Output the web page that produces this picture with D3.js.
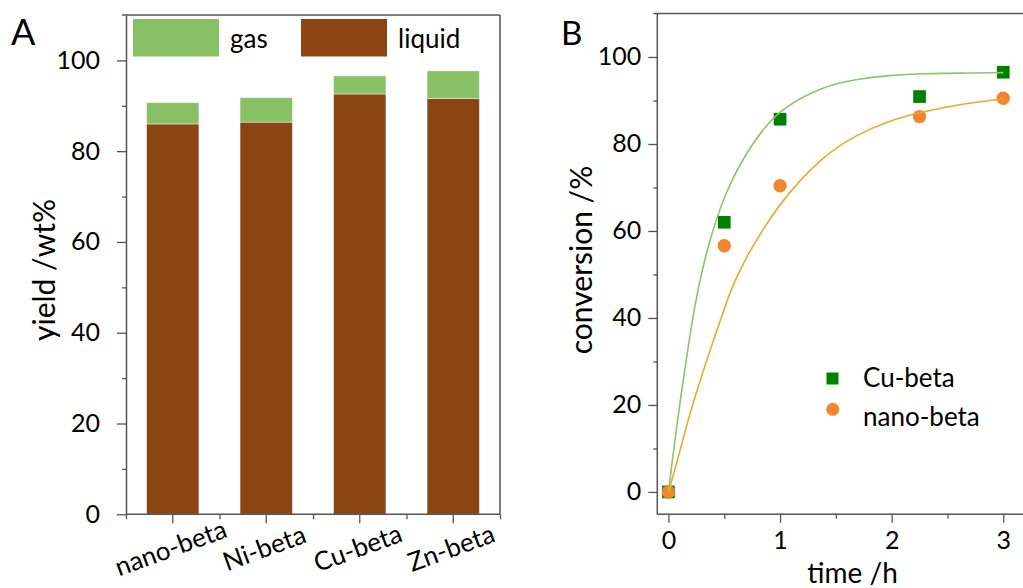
<!DOCTYPE html>
<html><head><meta charset="utf-8">
<script src="https://cdn.jsdelivr.net/npm/d3@7"></script>
<style>
html,body{margin:0;padding:0;background:#fff;}
svg{display:block;font-family:Lato,"Open Sans",sans-serif;}
</style></head>
<body>
<svg id="chart" width="1023" height="588"></svg>
<script>
// ---- Panel A data ----
const categories = ["nano-beta", "Ni-beta", "Cu-beta", "Zn-beta"];
const liquidYield = [86.0, 86.4, 92.6, 91.6];
const gasYield = [4.7, 5.4, 4.0, 6.1];
const yTicksA = [0, 20, 40, 60, 80, 100];
const yMinorA = [10, 30, 50, 70, 90];

// ---- Panel B data ----
const timeCu = [0, 0.5, 1, 2.25, 3];
const convCu = [0, 62.0, 85.7, 90.9, 96.5];
const timeNano = [0, 0.5, 1, 2.25, 3];
const convNano = [0, 56.6, 70.4, 86.3, 90.5];
// fitted curves
const fitTimeCu = [0, 0.039, 0.078, 0.119, 0.164, 0.209, 0.263, 0.323, 0.406, 0.511, 0.657, 0.86, 1.04, 1.38, 1.68, 1.98, 2.28, 2.58, 3.0];
const fitConvCu = [0, 8.1, 15.8, 23.4, 31.1, 38.8, 46.4, 53.3, 61.0, 68.7, 76.3, 84.0, 88.6, 93.2, 94.9, 95.8, 96.2, 96.3, 96.4];
const fitTimeNano = [0, 0.09, 0.167, 0.257, 0.352, 0.457, 0.556, 0.681, 0.86, 1.07, 1.38, 1.68, 1.98, 2.28, 2.58, 3.0];
const fitConvNano = [0, 8.1, 15.8, 23.4, 31.1, 38.8, 46.4, 53.3, 61.0, 68.7, 77.1, 82.1, 85.4, 87.4, 89.0, 90.4];
const xTicksB = [0, 1, 2, 3];
const xMinorB = [0.5, 1.5, 2.5];
const yTicksB = [0, 20, 40, 60, 80, 100];
const yMinorB = [10, 30, 50, 70, 90];

const colGas = "#88c065", colLiquid = "#8b4513";
const colCu = "#008000", colNano = "#f2852d";
const colCuLine = "#8cc56c", colNanoLine = "#e9aa2c";
const axisCol = "#555";

const svg = d3.select("#chart");

function styleAxis(g) {
  g.selectAll(".domain").attr("stroke", axisCol).attr("stroke-width", 1.5);
  g.selectAll(".tick line").attr("stroke", axisCol).attr("stroke-width", 1.3);
  g.selectAll(".tick text").attr("fill", "#000").style("font-family", "Lato");
}

// ================= Panel A =================
const A = {l: 126, r: 500, t: 15, b: 514.3};
const xA = d3.scaleBand().domain(categories).range([A.l, A.r]).paddingInner(0.44).paddingOuter(0.22);
const xAidx = d3.scaleLinear().domain([0, categories.length]).range([A.l, A.r]);
const yA = d3.scaleLinear().domain([0, 110]).range([A.b, A.t]);

const gA = svg.append("g");
// bars
categories.forEach((c, i) => {
  gA.append("rect").attr("x", xA(c)).attr("width", xA.bandwidth())
    .attr("y", yA(liquidYield[i])).attr("height", yA(0) - yA(liquidYield[i]))
    .attr("fill", colLiquid).attr("stroke", "#fff").attr("stroke-opacity", 0.45).attr("stroke-width", 1);
  gA.append("rect").attr("x", xA(c)).attr("width", xA.bandwidth())
    .attr("y", yA(liquidYield[i] + gasYield[i])).attr("height", yA(liquidYield[i]) - yA(liquidYield[i] + gasYield[i]))
    .attr("fill", colGas).attr("stroke", "#fff").attr("stroke-opacity", 0.45).attr("stroke-width", 1);
});
// frame top/right
gA.append("line").attr("x1", A.l - 4).attr("x2", A.r).attr("y1", A.t).attr("y2", A.t).attr("stroke", axisCol).attr("stroke-width", 1.5);
gA.append("line").attr("x1", A.r).attr("x2", A.r).attr("y1", A.t).attr("y2", A.b).attr("stroke", axisCol).attr("stroke-width", 1.5);
// y axis
const yAxA = gA.append("g").attr("transform", `translate(${A.l},0)`)
  .call(d3.axisLeft(yA).tickValues(yTicksA).tickSize(9).tickPadding(17).tickSizeOuter(0));
styleAxis(yAxA);
yAxA.selectAll(".tick text").style("font-size", "25px");
const yMinA = gA.append("g").attr("transform", `translate(${A.l},0)`)
  .call(d3.axisLeft(yA).tickValues(yMinorA).tickSize(4).tickFormat("").tickSizeOuter(0));
styleAxis(yMinA); yMinA.select(".domain").remove();
// x axis
const xAxA = gA.append("g").attr("transform", `translate(0,${A.b})`)
  .call(d3.axisBottom(xA).tickSize(9).tickSizeOuter(0));
styleAxis(xAxA);
xAxA.selectAll(".tick text").remove();
xAxA.select(".domain").attr("d", `M${A.l},0H${A.r}`);
const xMinA = gA.append("g").attr("transform", `translate(0,${A.b})`)
  .call(d3.axisBottom(xAidx).tickValues(d3.range(categories.length + 1)).tickSize(5).tickFormat("").tickSizeOuter(0));
styleAxis(xMinA); xMinA.select(".domain").remove();
// rotated category labels
categories.forEach(c => {
  const cx = xA(c) + xA.bandwidth() / 2 - 2, cy = 548;
  gA.append("text").attr("transform", `translate(${cx},${cy}) rotate(-20)`)
    .attr("text-anchor", "middle").attr("dy", "0.35em")
    .style("font-size", "26px").text(c);
});
// y title
gA.append("text").attr("transform", `translate(55,270) rotate(-90)`)
  .attr("text-anchor", "middle").style("font-size", "30px").text("yield /wt%");
// panel label
gA.append("text").attr("x", 11).attr("y", 45).style("font-size", "36px").text("A");
// legend
gA.append("rect").attr("x", 133).attr("y", 19).attr("width", 86).attr("height", 37.5).attr("fill", colGas);
gA.append("text").attr("x", 230).attr("y", 48).style("font-size", "26px").text("gas");
gA.append("rect").attr("x", 301).attr("y", 19).attr("width", 86).attr("height", 37.5).attr("fill", colLiquid);
gA.append("text").attr("x", 398).attr("y", 48).style("font-size", "26px").text("liquid");

// ================= Panel B =================
const B = {l: 657.3, t: 13.5, b: 513.7};
const xB = d3.scaleLinear().domain([-0.1, 3.2]).range([B.l, B.l + 3.3 * 111.6]);
const yB = d3.scaleLinear().domain([-5, 110]).range([B.b, B.t]);
const gB = svg.append("g");

gB.append("line").attr("x1", B.l - 4).attr("x2", xB(3.2)).attr("y1", B.t).attr("y2", B.t).attr("stroke", axisCol).attr("stroke-width", 1.5);
gB.append("line").attr("x1", xB(3.2)).attr("x2", xB(3.2)).attr("y1", B.t).attr("y2", B.b).attr("stroke", axisCol).attr("stroke-width", 1.5);

const yAxB = gB.append("g").attr("transform", `translate(${B.l},0)`)
  .call(d3.axisLeft(yB).tickValues(yTicksB).tickSize(9).tickPadding(7).tickSizeOuter(0));
styleAxis(yAxB);
yAxB.selectAll(".tick text").style("font-size", "25px");
yAxB.select(".domain").attr("d", `M0,${B.t}V${B.b + 1}`);
const yMinB = gB.append("g").attr("transform", `translate(${B.l},0)`)
  .call(d3.axisLeft(yB).tickValues(yMinorB).tickSize(4).tickFormat("").tickSizeOuter(0));
styleAxis(yMinB); yMinB.select(".domain").remove();

const xAxB = gB.append("g").attr("transform", `translate(0,${B.b})`)
  .call(d3.axisBottom(xB).tickValues(xTicksB).tickSize(9).tickPadding(9).tickFormat(d3.format("d")).tickSizeOuter(0));
styleAxis(xAxB);
xAxB.selectAll(".tick text").style("font-size", "25px");
const xMinB = gB.append("g").attr("transform", `translate(0,${B.b})`)
  .call(d3.axisBottom(xB).tickValues(xMinorB).tickSize(5).tickFormat("").tickSizeOuter(0));
styleAxis(xMinB); xMinB.select(".domain").remove();

// markers
const sq = 12.7;
gB.selectAll(".sq").data(timeCu).join("rect")
  .attr("x", (d) => xB(d) - sq / 2).attr("y", (d, i) => yB(convCu[i]) - sq / 2)
  .attr("width", sq).attr("height", sq).attr("fill", colCu);
gB.selectAll(".ci").data(timeNano).join("circle")
  .attr("cx", (d) => xB(d)).attr("cy", (d, i) => yB(convNano[i])).attr("r", 6.7).attr("fill", colNano);

// fitted lines
const line = d3.line().x(d => xB(d[0])).y(d => yB(d[1])).curve(d3.curveBasis);
gB.append("path").attr("d", line(fitTimeCu.map((t, i) => [t, fitConvCu[i]])))
  .attr("fill", "none").attr("stroke", colCuLine).attr("stroke-width", 1.6);
gB.append("path").attr("d", line(fitTimeNano.map((t, i) => [t, fitConvNano[i]])))
  .attr("fill", "none").attr("stroke", colNanoLine).attr("stroke-width", 1.6);

// titles
gB.append("text").attr("x", xB(1.65)).attr("y", 583).attr("text-anchor", "middle").style("font-size", "28px").text("time /h");
gB.append("text").attr("transform", `translate(592,260) rotate(-90)`)
  .attr("text-anchor", "middle").style("font-size", "30px").text("conversion /%");
gB.append("text").attr("x", 561).attr("y", 45).style("font-size", "33px").text("B");

// legend
gB.append("rect").attr("x", 826.5).attr("y", 372.5).attr("width", 12).attr("height", 12).attr("fill", colCu);
gB.append("text").attr("x", 863).attr("y", 386.5).style("font-size", "26px").text("Cu-beta");
gB.append("circle").attr("cx", 832.7).attr("cy", 409.3).attr("r", 6.5).attr("fill", colNano);
gB.append("text").attr("x", 863).attr("y", 426).style("font-size", "26px").text("nano-beta");
</script>
</body></html>
